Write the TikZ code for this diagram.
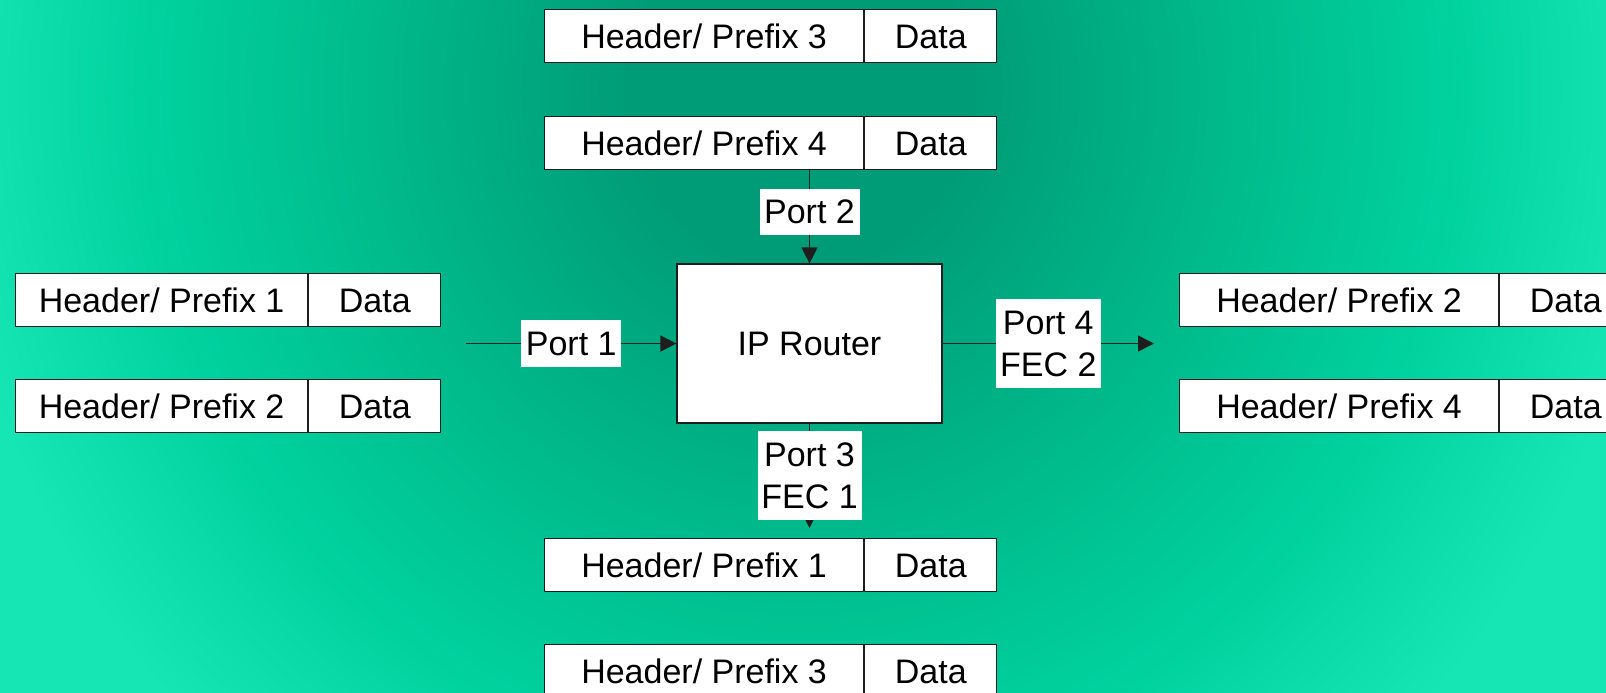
\documentclass[tikz,border=0pt]{standalone}
\usepackage{fontspec}
\setmainfont{Liberation Sans}
\usetikzlibrary{arrows.meta}

% background greens, from the dark core outwards
\definecolor{bgA}{HTML}{009C78}
\definecolor{bgB}{HTML}{00B88A}
\definecolor{bgC}{HTML}{00D29E}
\definecolor{bgD}{HTML}{16E6B4}
\definecolor{inkline}{HTML}{1E1E1E}

% glow that reaches the edge colour well inside the shaded ellipse
\pgfdeclareradialshading{bgglow}{\pgfpoint{0bp}{0bp}}{%
  color(0bp)=(bgA); color(3.85bp)=(bgA); color(9.2bp)=(bgB);
  color(14.6bp)=(bgC); color(19.2bp)=(bgD); color(50bp)=(bgD)}

\tikzset{
  txt/.style={font=\fontsize{17pt}{21pt}\selectfont},
  cell/.style={txt, draw=inkline, line width=0.6pt, fill=white,
    inner sep=0pt, minimum height=26.5pt, text height=12.2pt, text depth=0pt},
  hdr/.style={cell, anchor=north west},
  dat/.style={cell, anchor=west, minimum width=66pt},
  router/.style={txt, draw=inkline, line width=0.6pt, fill=white,
    minimum width=132.5pt, minimum height=79.5pt, inner sep=0pt},
  lbl/.style={txt, fill=white, inner sep=0pt, align=center,
    minimum width=50pt},
  conn/.style={draw=inkline, line width=0.75pt,
    -{Triangle[length=8pt,width=8pt]}},
}

\begin{document}
\begin{tikzpicture}[x=0.5pt,y=-0.5pt]
  \useasboundingbox (0,0) rectangle (1606,692);
  \clip (0,0) rectangle (1606,692);

  % backdrop
  \fill[bgD] (0,0) rectangle (1606,692);
  \shade[shading=bgglow] (800,90) ellipse [x radius=1118, y radius=1170];

  % packets above the router
  \node[hdr, minimum width=159.5pt] (t1h) at (544,9) {Header/ Prefix 3};
  \node[dat] (t1d) at (t1h.east) {Data};
  \node[hdr, minimum width=159.5pt] (t2h) at (544,116) {Header/ Prefix 4};
  \node[dat] (t2d) at (t2h.east) {Data};

  % packets on the left
  \node[hdr, minimum width=146pt] (l1h) at (15,273) {Header/ Prefix 1};
  \node[dat] (l1d) at (l1h.east) {Data};
  \node[hdr, minimum width=146pt] (l2h) at (15,379) {Header/ Prefix 2};
  \node[dat] (l2d) at (l2h.east) {Data};

  % packets on the right
  \node[hdr, minimum width=159.5pt] (r1h) at (1179,273) {Header/ Prefix 2};
  \node[dat] (r1d) at (r1h.east) {Data};
  \node[hdr, minimum width=159.5pt] (r2h) at (1179,379) {Header/ Prefix 4};
  \node[dat] (r2d) at (r2h.east) {Data};

  % packets below the router
  \node[hdr, minimum width=159.5pt] (b1h) at (544,538) {Header/ Prefix 1};
  \node[dat] (b1d) at (b1h.east) {Data};
  \node[hdr, minimum width=159.5pt] (b2h) at (544,644) {Header/ Prefix 3};
  \node[dat] (b2d) at (b2h.east) {Data};

  % the router
  \node[router] (rt) at (809.5,343.5) {IP Router};

  % free ends of the port lines
  \coordinate (inA) at (466,343.5);
  \coordinate (outB) at (1154,343.5);
  \coordinate (dnC) at (809.5,528);

  % ports
  \draw[conn] (inA) -- node[lbl, minimum height=23.5pt] {Port 1} (rt.west);
  \draw[conn] (rt.north |- t2h.south) -- node[lbl, pos=0.45, minimum height=23pt] {Port 2} (rt.north);
  \draw[conn] (rt.south) -- node[lbl, minimum width=52pt, minimum height=44.5pt] {Port 3\\FEC 1} (dnC);
  \draw[conn] (rt.east) -- node[lbl, minimum width=52.5pt, minimum height=44.5pt] {Port 4\\FEC 2} (outB);
\end{tikzpicture}
\end{document}
